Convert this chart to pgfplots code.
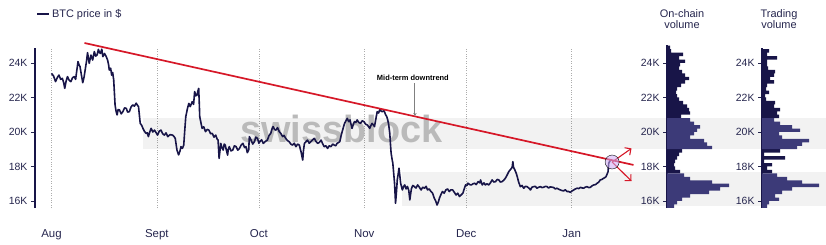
\documentclass[border=0pt]{standalone}
\usepackage{fontspec}
\setmainfont{Liberation Sans}
\usepackage{pgfplots}
\pgfplotsset{compat=1.18}
\usetikzlibrary{arrows.meta}
\definecolor{navy}{RGB}{24,21,72}
\definecolor{navyl}{RGB}{60,58,120}
\definecolor{trend}{RGB}{214,24,40}
\definecolor{wm}{RGB}{186,186,186}
\definecolor{ticktext}{RGB}{38,38,78}
\definecolor{circ}{RGB}{205,170,245}

\pgfplotstableread{
p v
24.9 3
24.7 4
24.5 16
24.3 12
24.1 18
23.9 13
23.7 12
23.5 15
23.3 18
23.1 22
22.9 18
22.7 14
22.5 10
22.3 9
22.1 10
21.9 12
21.7 16
21.5 20
21.3 22
21.1 23
20.9 14
18.9 15
18.7 12
18.5 10
18.3 8
18.1 7
17.9 8
17.7 13
}\onchainout
\pgfplotstableread{
p v
20.7 23
20.5 27
20.3 33
20.1 30
19.9 27
19.7 23
19.5 37
19.3 40
19.1 45
17.5 17
17.3 23
17.1 45
16.9 62
16.7 53
16.5 42
16.3 23
16.1 15
15.9 10
15.7 7
}\onchainin
\pgfplotstableread{
p v
24.7 7
24.5 5
24.3 15
24.1 5
23.9 5
23.7 6
23.5 13
23.3 12
23.1 8
22.9 12
22.7 5
22.5 4
22.3 7
22.1 3
21.9 4
21.7 13
21.5 12
21.3 18
21.1 15
20.9 17
18.9 18
18.7 2
18.5 23
18.3 2
18.1 10
17.9 5
17.7 10
}\tradingout
\pgfplotstableread{
p v
20.7 12
20.5 18
20.3 30
20.1 38
19.9 17
19.7 20
19.5 47
19.3 40
19.1 35
17.5 15
17.3 25
17.1 40
16.9 57
16.7 30
16.5 20
16.3 13
16.1 17
15.9 7
15.7 5
}\tradingin

\pgfplotstableread{
d p
0 23.40
0.6 23.25
1.2 22.92
1.7 23.15
2.2 23.30
2.7 23.05
3.2 23.11
3.6 22.85
3.9 22.53
4.3 22.95
4.7 23.21
5.2 23.00
5.7 22.92
6.2 23.15
6.7 23.21
7.1 23.05
7.4 23.50
7.8 24.08
8.1 23.90
8.4 23.79
8.8 23.30
9.2 22.86
9.6 23.20
9.9 23.59
10.3 24.10
10.6 24.60
11.1 23.98
11.6 24.46
12.1 24.17
12.6 24.66
13.0 24.40
13.4 24.46
13.8 24.79
14.1 24.60
14.4 24.56
14.8 24.80
15.1 24.37
15.6 24.55
16.1 24.37
16.5 24.17
16.8 23.90
17.0 23.59
17.4 23.70
17.7 23.30
18.0 23.45
18.3 23.01
18.5 22.30
18.7 21.57
19.0 21.20
19.3 20.99
19.6 21.30
20.0 21.28
20.5 21.05
21.0 21.18
21.5 21.40
22.0 21.37
22.4 21.15
22.9 21.18
23.4 21.45
23.9 21.57
24.4 21.50
24.9 21.67
25.3 21.55
25.6 21.47
26.1 20.50
26.5 20.40
26.9 20.21
27.3 20.05
27.8 19.92
28.2 19.95
28.5 19.73
28.9 20.00
29.3 20.21
29.8 20.00
30.3 20.11
30.8 19.95
31.2 19.82
31.7 20.05
32.2 20.11
32.7 19.90
33.2 19.82
33.7 19.95
34.2 19.73
34.9 19.85
35.6 19.82
36.0 19.75
36.4 19.63
36.9 18.96
37.4 18.67
37.8 18.90
38.1 19.15
38.5 19.05
38.9 19.24
39.2 20.10
39.5 20.89
40.0 21.37
40.4 21.66
40.8 21.47
41.4 21.76
41.8 21.60
42.1 22.34
42.5 22.10
42.8 22.14
43.1 22.40
43.3 22.53
43.5 21.50
43.6 20.89
44.0 20.50
44.3 20.21
44.8 20.30
45.3 20.02
45.8 20.15
46.3 20.11
46.8 19.90
47.3 19.92
47.8 19.70
48.3 19.82
48.7 19.60
49.0 19.53
49.3 18.47
49.6 19.00
49.8 19.34
50.1 19.10
50.5 18.95
50.8 19.30
51.1 19.24
51.5 18.90
51.8 18.66
52.0 19.00
52.3 19.15
52.8 18.90
53.3 18.95
53.8 19.20
54.3 19.15
54.8 18.95
55.3 19.05
55.8 19.25
56.3 19.34
56.8 19.10
57.2 19.15
57.6 18.80
58.0 18.95
58.2 19.73
58.7 19.53
59.2 19.30
59.7 19.44
60.1 19.70
60.6 19.63
61.0 19.35
61.3 19.44
61.8 19.55
62.3 19.34
62.9 19.45
63.5 19.53
64.0 19.80
64.5 19.92
64.9 20.20
65.2 20.31
65.6 20.15
66.0 20.11
66.5 20.25
67.0 20.02
67.5 19.90
68.0 19.73
68.4 19.80
68.9 19.63
69.4 19.50
69.9 19.44
70.4 19.30
70.9 19.24
71.4 19.35
71.9 19.15
72.4 19.30
72.9 19.24
73.2 19.00
73.4 18.86
73.9 18.37
74.1 18.90
74.4 19.34
74.9 19.45
75.3 19.53
75.8 19.35
76.3 19.44
76.8 19.55
77.3 19.63
77.8 19.45
78.3 19.34
78.8 19.40
79.3 19.53
79.8 19.30
80.2 19.15
80.7 19.20
81.2 19.05
81.7 19.20
82.2 19.15
82.7 19.30
83.2 19.24
83.6 19.20
84.0 19.34
84.5 19.40
84.8 19.44
85.2 19.80
85.5 20.02
85.9 20.30
86.2 20.50
86.6 20.65
87.0 20.79
87.4 20.60
87.8 20.70
88.1 20.45
88.4 20.21
88.8 20.45
89.1 20.60
89.5 20.55
89.9 20.70
90.4 20.55
90.9 20.50
91.4 20.65
91.9 20.60
92.4 20.45
92.9 20.41
93.3 20.30
93.6 20.21
94.0 20.40
94.3 20.50
94.7 20.40
95.0 20.31
95.4 20.75
95.8 21.18
96.2 21.10
96.6 21.31
97.0 21.20
97.3 21.18
97.8 21.24
98.3 20.99
98.6 20.90
98.9 20.70
99.2 20.40
99.5 19.92
99.7 19.30
99.9 18.76
100.2 18.40
100.4 18.19
100.7 17.50
100.9 17.03
101.2 15.87
101.5 16.60
101.7 17.22
102.0 17.60
102.2 17.90
102.5 17.40
102.7 17.03
103.0 16.80
103.2 16.64
103.6 16.85
103.9 16.93
104.3 16.70
104.7 16.84
105.1 16.60
105.4 16.06
105.7 16.50
105.9 16.74
106.3 16.90
106.7 16.84
107.2 16.75
107.7 16.93
108.2 16.80
108.7 16.64
109.2 16.80
109.7 16.74
110.2 16.85
110.6 16.64
111.1 16.70
111.6 16.55
112.1 16.45
112.6 16.16
113.0 16.00
113.4 15.77
113.8 15.95
114.1 16.16
114.6 16.40
115.0 16.55
115.5 16.45
116.0 16.64
116.5 16.70
117.0 16.55
117.5 16.65
118.0 16.64
118.5 16.50
119.0 16.35
119.5 16.45
120.0 16.26
120.5 16.35
121.0 16.45
121.4 16.70
121.8 16.93
122.2 16.90
122.5 17.03
123.0 16.95
123.5 16.93
124.0 17.00
124.5 17.03
124.9 16.95
125.5 17.12
126.0 17.05
126.2 17.22
126.7 16.93
127.2 17.05
127.6 16.93
128.1 17.00
128.6 16.93
129.1 17.05
129.6 17.22
130.1 17.10
130.6 17.12
131.1 17.25
131.6 17.22
132.0 17.10
132.5 17.12
133.0 17.20
133.5 17.32
134.0 17.50
134.5 17.70
134.9 17.80
135.3 17.90
135.5 17.95
135.7 18.28
135.9 17.95
136.3 17.80
136.7 17.60
137.0 17.41
137.4 17.10
137.9 16.83
138.4 16.90
138.9 16.74
139.4 16.85
139.9 16.83
140.4 16.75
140.9 16.64
141.3 16.80
141.8 16.83
142.3 16.85
142.8 16.74
143.3 16.80
143.8 16.83
144.3 16.78
144.8 16.80
145.3 16.85
145.8 16.83
146.2 16.75
146.7 16.82
147.2 16.80
147.7 16.78
148.2 16.70
148.7 16.74
149.2 16.68
149.7 16.64
150.2 16.60
150.7 16.59
151.1 16.65
151.6 16.55
152.1 16.55
152.6 16.50
153.1 16.58
153.6 16.64
154.1 16.70
154.6 16.74
155.1 16.72
155.6 16.79
156.0 16.76
156.5 16.74
157.0 16.80
157.5 16.83
158.0 16.78
158.5 16.79
159.0 16.88
159.5 16.93
160.0 16.95
160.5 17.03
161.0 17.10
161.4 17.22
161.9 17.25
162.4 17.32
162.8 17.36
163.1 17.41
163.4 17.55
163.7 17.70
163.9 18.19
164.2 18.30
164.4 18.38
}\price

\pgfplotsset{
  hist/.style={
    scale only axis, anchor=south west, clip=false,
    ymin=15.594,
    axis y line*=left, axis x line=none,
    y axis line style={navy, line width=1.6bp, -},
    ytick={16,18,20,22,24}, yticklabels={16K,18K,20K,22K,24K},
    ytick style={ticktext, line width=0.6bp},
    tick align=outside, major tick length=4bp,
    yticklabel style={font=\fontsize{10.5}{12}\selectfont, text=ticktext},
  },
}

\begin{document}
\begin{tikzpicture}
\path[use as bounding box] (0bp,0bp) rectangle (826bp,245bp);

\begin{axis}[
  at={(35bp,37bp)}, anchor=south west, scale only axis,
  width=605bp, height=160bp,
  xmin=-4.85, xmax=173.1, ymin=15.594, ymax=24.87,
  clip=false,
  axis y line*=left, axis x line*=bottom,
  x axis line style={draw=none},
  y axis line style={navy, line width=1.6bp, -},
  xtick={0,31,61,92,122,153},
  xticklabels={Aug,Sept,Oct,Nov,Dec,Jan},
  xtick style={draw=none},
  xmajorgrids,
  major x grid style={gray!65, line width=0.7bp, dash pattern=on 0.8bp off 1.6bp},
  ytick={16,18,20,22,24}, yticklabels={16K,18K,20K,22K,24K},
  ytick style={ticktext, line width=0.6bp},
  tick align=outside, major tick length=4bp,
  yticklabel style={font=\fontsize{10.5}{12}\selectfont, text=ticktext},
  xticklabel style={font=\fontsize{11.5}{13}\selectfont, text=ticktext, anchor=base, yshift=-25bp},
  legend style={draw=none, fill=none, at={(0.0017,1.2125)}, anchor=west,
    font=\fontsize{11}{13}\selectfont, text=ticktext, inner sep=0pt},
  legend cell align=left,
  legend image code/.code={\draw[#1, line width=1.8bp] (0bp,0bp) -- (12bp,0bp);},
]
% bands
\fill[black, opacity=0.05] (axis cs:27,19.03) rectangle (axis cs:227.8,20.81);
\fill[black, opacity=0.05] (axis cs:103,15.72) rectangle (axis cs:227.8,17.68);
% watermark
\node[font=\bfseries\fontsize{38}{40}\selectfont, text=wm, anchor=base] at (axis cs:85.3,19.42) {swissblock};

\addplot[navy, line width=1.6bp, line join=round] table[x=d, y=p] {\price};
\addlegendentry{BTC price in \$}

\addplot[only marks, mark=*, mark size=7bp, mark options={fill=circ, draw=none, fill opacity=0.55}, forget plot] coordinates {(164.9,18.26)};
\addplot[trend, line width=1.7bp, forget plot] coordinates {(9.7,25.16) (171.2,18.09)};
\addplot[trend, line width=1.1bp, -{Straight Barb[length=4.5bp,width=9bp]}, forget plot] coordinates {(164.9,18.26) (170.6,19.05)};
\addplot[trend, line width=1.1bp, -{Straight Barb[length=4.5bp,width=9bp]}, forget plot] coordinates {(164.9,18.26) (170.6,17.15)};

\node[font=\bfseries\fontsize{7.5}{9}\selectfont, text=black] at (axis cs:106.3,23.13) {Mid-term downtrend};
\draw[gray, line width=0.9bp, -{Stealth[length=3bp,width=3.5bp]}] (axis cs:106.9,22.84) -- (axis cs:106.9,20.93);
\end{axis}

\begin{axis}[hist, at={(667bp,37bp)}, width=65bp, height=163bp,
  xmin=0, xmax=65, ymax=25.043]
\addplot[xbar, bar shift=0pt, bar width=0.2, fill=navy, draw=none] table[x=v, y=p] {\onchainout};
\addplot[xbar, bar shift=0pt, bar width=0.2, fill=navyl, draw=none] table[x=v, y=p] {\onchainin};
\end{axis}

\begin{axis}[hist, at={(762bp,37bp)}, width=64bp, height=160bp,
  xmin=0, xmax=64, ymax=24.87]
\addplot[xbar, bar shift=0pt, bar width=0.2, fill=navy, draw=none] table[x=v, y=p] {\tradingout};
\addplot[xbar, bar shift=0pt, bar width=0.2, fill=navyl, draw=none] table[x=v, y=p] {\tradingin};
\end{axis}

\node[align=center, font=\fontsize{11}{11}\selectfont, text=ticktext] at (682bp,226bp) {On-chain\\volume};
\node[align=center, font=\fontsize{11}{11}\selectfont, text=ticktext] at (779bp,226bp) {Trading\\volume};
\end{tikzpicture}
\end{document}
